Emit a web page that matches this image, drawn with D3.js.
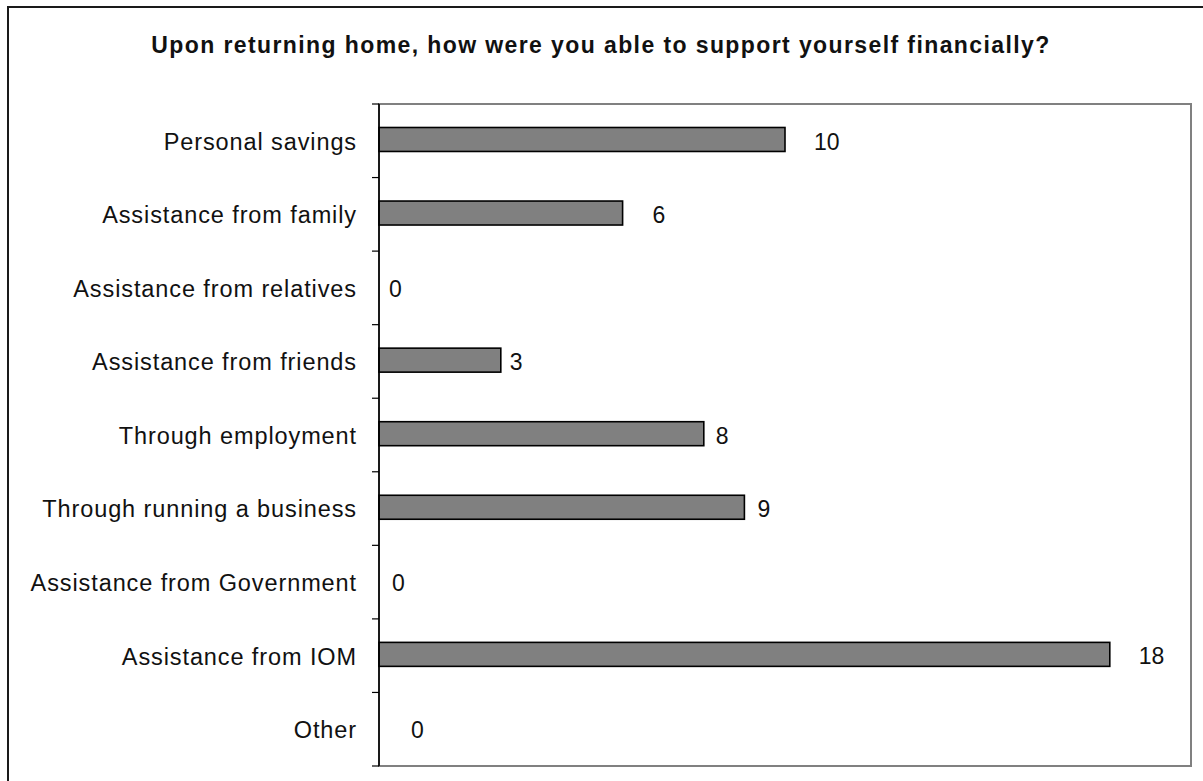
<!DOCTYPE html>
<html>
<head>
<meta charset="utf-8">
<script src="https://cdn.jsdelivr.net/npm/d3@7"></script>
<style>
  html, body { margin: 0; padding: 0; background: #fff; }
  svg { display: block; font-family: "Liberation Sans", Arial, sans-serif; }
</style>
</head>
<body>
<svg id="chart" width="1203" height="781"></svg>
<script>
// Survey responses: how returnees supported themselves financially
const categories = [
  "Personal savings",
  "Assistance from family",
  "Assistance from relatives",
  "Assistance from friends",
  "Through employment",
  "Through running a business",
  "Assistance from Government",
  "Assistance from IOM",
  "Other"
];
const counts = [10, 6, 0, 3, 8, 9, 0, 18, 0];
const xDomain = [0, 20];
const title = "Upon returning home, how were you able to support yourself financially?";

// Horizontal nudge (px) of each value label from the end of its bar
const labelNudge = [29, 30, 10, 9, 12, 13, 13, 29, 32];

const svg = d3.select("#chart");

// Outer chart frame (runs off the right and bottom edges)
svg.append("rect")
  .attr("x", 8).attr("y", 7)
  .attr("width", 1400).attr("height", 1000)
  .attr("fill", "none").attr("stroke", "#1a1a1a").attr("stroke-width", 2);

svg.append("text")
  .attr("x", 601).attr("y", 53)
  .attr("text-anchor", "middle")
  .attr("font-size", 23).attr("font-weight", "bold")
  .attr("letter-spacing", 1.4)
  .attr("fill", "#111")
  .text(title);

const plot = { left: 379, right: 1191, top: 104, bottom: 766 };

const x = d3.scaleLinear().domain(xDomain).range([plot.left, plot.right]);
const y = d3.scaleBand()
  .domain(categories)
  .range([plot.top, plot.bottom])
  .paddingInner(0.674)
  .paddingOuter(0.337);

// Plot area border
svg.append("rect")
  .attr("x", plot.left).attr("y", plot.top)
  .attr("width", plot.right - plot.left).attr("height", plot.bottom - plot.top)
  .attr("fill", "none").attr("stroke", "#808080").attr("stroke-width", 2);

// Bars
svg.append("g").selectAll("rect")
  .data(categories)
  .join("rect")
  .attr("x", x(0))
  .attr("y", d => y(d) - 1.3)
  .attr("width", (d, i) => x(counts[i]) - x(0))
  .attr("height", y.bandwidth())
  .attr("fill", "#808080")
  .attr("stroke", "#000")
  .attr("stroke-width", 1.6)
  .style("display", (d, i) => counts[i] > 0 ? null : "none");

// Category axis: ticks sit on the boundaries between categories
const step = y.step();
const boundaries = d3.range(categories.length + 1).map(i => plot.top + i * step);
const axisG = svg.append("g");
axisG.selectAll("line.tick")
  .data(boundaries)
  .join("line")
  .attr("class", "tick")
  .attr("x1", plot.left - 7).attr("x2", plot.left)
  .attr("y1", d => d).attr("y2", d => d)
  .attr("stroke", "#000").attr("stroke-width", 1.2);
axisG.append("line")
  .attr("x1", plot.left).attr("x2", plot.left)
  .attr("y1", plot.top).attr("y2", plot.bottom)
  .attr("stroke", "#000").attr("stroke-width", 1.6);

axisG.selectAll("text.cat")
  .data(categories)
  .join("text")
  .attr("class", "cat")
  .attr("x", 357)
  .attr("y", d => y(d) + y.bandwidth() / 2)
  .attr("dy", "0.38em")
  .attr("text-anchor", "end")
  .attr("font-size", 23.5)
  .attr("letter-spacing", 0.9)
  .attr("fill", "#111")
  .text(d => d);

// Value labels
svg.append("g").selectAll("text")
  .data(categories)
  .join("text")
  .attr("x", (d, i) => x(counts[i]) + labelNudge[i])
  .attr("y", d => y(d) + y.bandwidth() / 2)
  .attr("dy", "0.38em")
  .attr("font-size", 23)
  .attr("fill", "#111")
  .text((d, i) => counts[i]);
</script>
</body>
</html>
